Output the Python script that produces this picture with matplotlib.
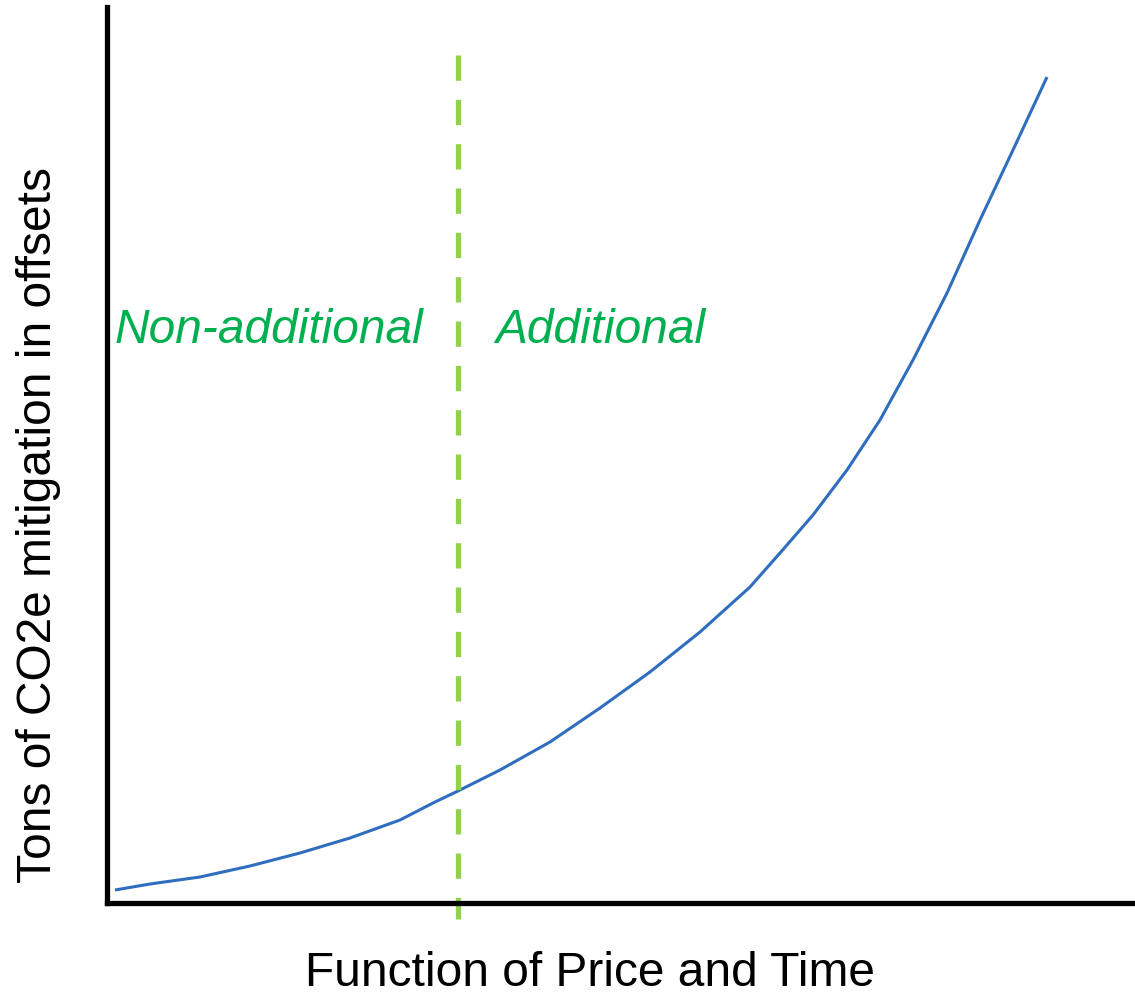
import matplotlib.pyplot as plt

plt.rcParams['font.family'] = ['Liberation Sans', 'DejaVu Sans']

# curve (arbitrary units, origin at the axes corner)
curve_x = [8, 43, 93, 143, 193, 243, 293, 326, 351, 393, 443, 493, 543, 593,
           643, 673, 706, 740, 773, 806, 840, 873, 906, 940]
curve_y = [13, 19, 26, 37, 50, 65, 83, 100, 112, 133, 161, 195, 231, 271,
           316, 350, 388, 433, 483, 543, 610, 683, 753, 826]

threshold_x = 351
dash_top = 848
dash_bottom = -16

labels = ["Non-additional", "Additional"]
label_x = [8, 388]
label_y = 560

W, H = 1135, 996
fig = plt.figure(figsize=(W / 100, H / 100), dpi=100)
ax = fig.add_axes([107 / W, (H - 903) / H, 1028 / W, 896 / H])

ax.plot(curve_x, curve_y, color='#2F6EBF', linewidth=2.2,
        solid_capstyle='butt', solid_joinstyle='round')
ax.plot([threshold_x, threshold_x], [dash_top, dash_bottom], color='#92D050',
        linewidth=3.8, dashes=(4.8, 3.6), dash_capstyle='butt', clip_on=False)

for lab, lx in zip(labels, label_x):
    ax.text(lx, label_y, lab, color='#00B050', style='italic', fontsize=34.5,
            ha='left', va='baseline')

ax.set_xlim(0, 1028)
ax.set_ylim(0, 896)
for s in ['top', 'right']:
    ax.spines[s].set_visible(False)
for s in ['left', 'bottom']:
    ax.spines[s].set_linewidth(3.8)
    ax.spines[s].set_capstyle('projecting')
ax.set_xticks([])
ax.set_yticks([])

fig.text(590 / W, 1 - 973 / H, "Function of Price and Time", fontsize=34.5,
         ha='center', va='center')
fig.text(39 / W, 1 - 525 / H, "Tons of CO2e mitigation in offsets", fontsize=34.5,
         ha='center', va='center', rotation=90)

fig.savefig('out.png', dpi=100)
